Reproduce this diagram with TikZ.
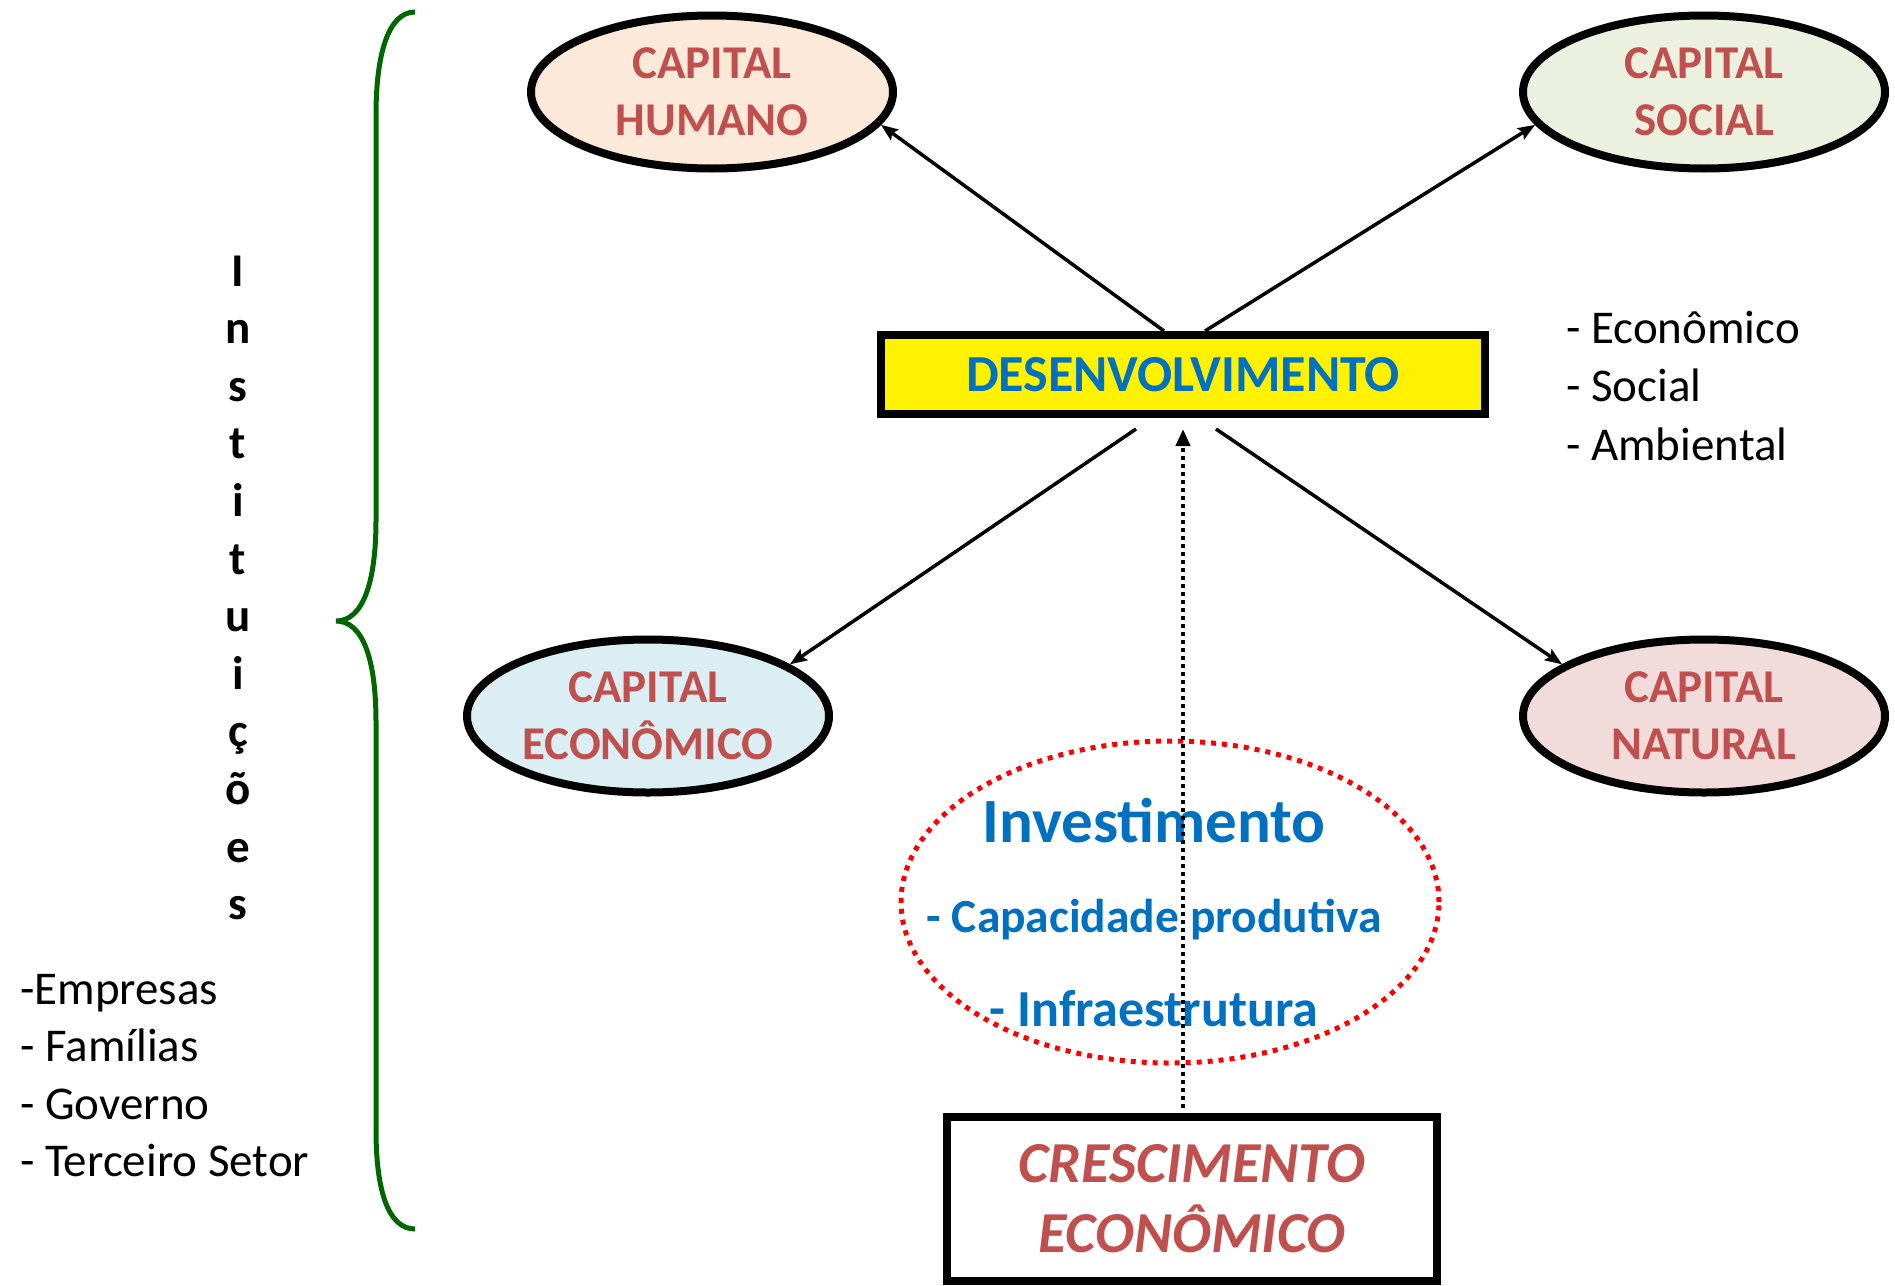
\documentclass[tikz,border=0pt]{standalone}
\usepackage{fontspec}
\setmainfont{Carlito}
\usetikzlibrary{arrows.meta,shapes.geometric}

\definecolor{azul}{RGB}{0,112,192}
\definecolor{vermelho}{RGB}{192,80,77}
\definecolor{verde}{RGB}{0,102,0}
\definecolor{fundoHumano}{RGB}{253,233,217}
\definecolor{fundoSocial}{RGB}{235,241,222}
\definecolor{fundoEconomico}{RGB}{218,238,243}
\definecolor{fundoNatural}{RGB}{242,220,219}

\begin{document}
\begin{tikzpicture}[x=1pt, y=-1pt,
		capital/.style={draw, line width=8pt, ellipse, minimum width=362pt, minimum height=153pt, inner sep=0pt, align=center, text=vermelho, font=\fontsize{47}{57}\selectfont\bfseries},
		box/.style={draw, line width=8pt, rectangle, inner sep=0pt, align=center},
		seta/.style={line width=3.5pt, -{Stealth[length=17pt, width=13pt, inset=3pt]}},
		lista/.style={anchor=base west, inner sep=0pt, font=\fontsize{47}{57}\selectfont},
		letra/.style={anchor=base, inner sep=0pt, font=\fontsize{47}{57}\selectfont\bfseries},
		invtexto/.style={anchor=base, inner sep=0pt, text=azul},
	]
		\useasboundingbox (0,0) rectangle (1895,1285);

		% capitais
		\node[capital, fill=fundoHumano] (humano) at (712,92) {CAPITAL\\HUMANO};
		\node[capital, fill=fundoSocial] (social) at (1704,92) {CAPITAL\\SOCIAL};
		\node[capital, fill=fundoEconomico] (economico) at (648,716) {CAPITAL\\ECONÔMICO};
		\node[capital, fill=fundoNatural] (natural) at (1704,716) {CAPITAL\\NATURAL};

		\node[box, fill=yellow, minimum width=604pt, minimum height=79pt, text=azul, font=\fontsize{52}{62}\selectfont\bfseries] (desenv) at (1183,374.5) {DESENVOLVIMENTO};
		\node[box, minimum width=490pt, minimum height=164pt, text=vermelho, font=\fontsize{58}{70}\selectfont\bfseries\itshape] (cresc) at (1192,1199) {CRESCIMENTO\\ECONÔMICO};

		% investimento
		\node[ellipse, draw=red, line width=5pt, dash pattern=on 5pt off 6pt, minimum width=538pt, minimum height=322pt] (inv) at (1170,902) {};
		\node[invtexto, font=\fontsize{63}{75}\selectfont\bfseries] (invtit) at (1154,842) {Investimento};
		\node[invtexto, font=\fontsize{47.5}{57}\selectfont\bfseries] (invcap) at (1154,932) {- Capacidade produtiva};
		\node[invtexto, font=\fontsize{52}{62}\selectfont\bfseries] (invinf) at (1154,1026) {- Infraestrutura};

		\draw[seta] ([xshift=-19pt]desenv.north) -- (humano.-11);
		\draw[seta] ([xshift=22pt]desenv.north) -- (social.191);
		\draw[seta] ([xshift=-47pt,yshift=-11pt]desenv.south) -- (economico.20);
		\draw[seta] ([xshift=33pt,yshift=-11pt]desenv.south) -- (natural.160);
		\draw[line width=4pt, dash pattern=on 4pt off 4pt, -{Triangle[length=17pt, width=14pt]}] ([xshift=-9pt,yshift=5pt]cresc.north) -- ([yshift=-11pt]desenv.south);

		% instituicoes
		\draw[verde, line width=5pt] (415,12) .. controls (388,12) and (376,55) .. (376,115) -- (376,520) .. controls (376,585) and (362,621) .. (336,621) .. controls (362,621) and (376,657) .. (376,722) -- (376,1130) .. controls (376,1190) and (388,1229) .. (415,1229);
		\foreach \l [count=\i from 0] in {I,n,s,t,i,t,u,i,ç,õ,e,s}
			\node[letra] (inst\i) at (238,286+57.6*\i) {\l};
		\foreach \t [count=\i from 0] in {-Empresas,- Famílias,- Governo,- Terceiro Setor}
			\node[lista] (org\i) at (20,1004+57.5*\i) {\t};
		\foreach \t [count=\i from 0] in {- Econômico,- Social,- Ambiental}
			\node[lista] (dim\i) at (1566,343+58.5*\i) {\t};
	\end{tikzpicture}
\end{document}
